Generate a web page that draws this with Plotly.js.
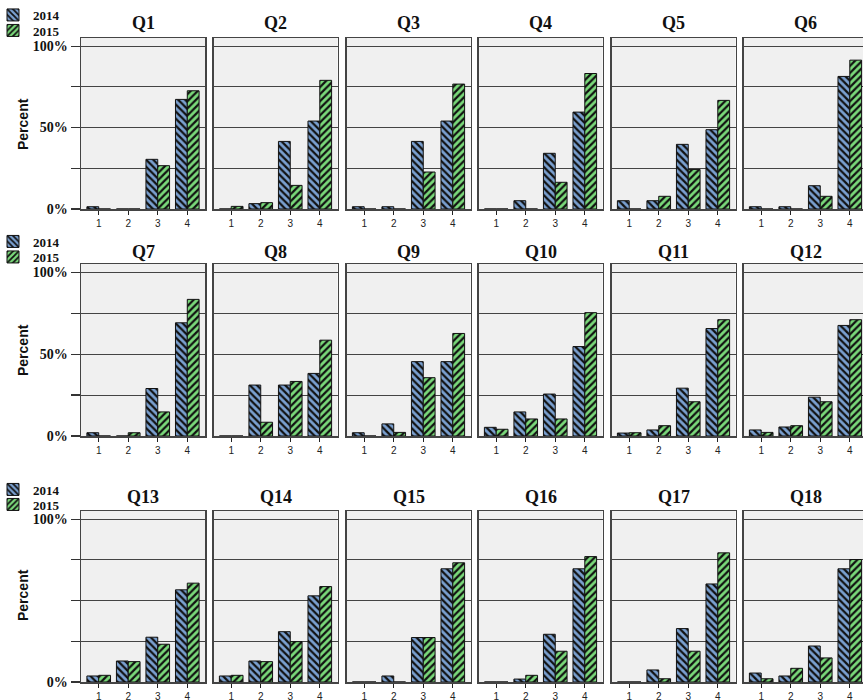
<!DOCTYPE html>
<html>
<head>
<meta charset="utf-8">
<script src="https://cdn.plot.ly/plotly-3.0.1.min.js"></script>
<style>html,body{margin:0;padding:0;background:#fff;}#chart{width:863px;height:700px;}</style>
</head>
<body>
<div id="chart"></div>
<script>
// ---- data ----
var questions = ['Q1','Q2','Q3','Q4','Q5','Q6','Q7','Q8','Q9','Q10','Q11','Q12','Q13','Q14','Q15','Q16','Q17','Q18'];
var categories = [1, 2, 3, 4];
var years = ['2014', '2015'];
var pct2014 = [
  [1.4, 0, 30.5, 67.3],
  [0, 3.3, 41.5, 54],
  [1.4, 1.4, 41.5, 54],
  [0, 5.1, 34.2, 59.5],
  [5.1, 5.1, 39.7, 48.7],
  [1.4, 1.4, 14.3, 81.4],
  [2, 0, 29, 69.1],
  [0, 31.1, 31.1, 38.2],
  [2, 7.4, 45.4, 45.4],
  [5.3, 14.7, 25.6, 54.6],
  [1.8, 3.7, 29.2, 65.6],
  [3.7, 5.5, 23.7, 67.5],
  [3.7, 12.9, 27.5, 56.6],
  [3.7, 12.9, 30.9, 52.9],
  [0, 3.7, 27.3, 69.5],
  [0, 1.8, 29.3, 69.5],
  [0, 7.4, 32.8, 60.2],
  [5.5, 3.7, 22.1, 69.5]
];
var pct2015 = [
  [0, 0, 26.6, 72.6],
  [1.6, 3.9, 14.5, 79],
  [0, 0, 22.7, 76.7],
  [0, 0, 16.4, 83.2],
  [0, 7.8, 24.3, 66.7],
  [0, 0, 7.8, 91.4],
  [0, 2, 14.7, 83.4],
  [0, 8.4, 33.3, 58.5],
  [0, 2.2, 35.6, 62.6],
  [4.1, 10.4, 10.4, 75.3],
  [2, 6.3, 20.9, 71],
  [2.2, 6.3, 20.9, 71],
  [4.1, 12.5, 23.2, 60.7],
  [4.1, 12.5, 24.8, 58.6],
  [0, 0, 27.3, 73.2],
  [0, 4.1, 18.9, 77],
  [0, 2, 18.9, 79.3],
  [2, 8.4, 14.8, 75.2]
];
var yTickText = [
  ['0%', '', '50%', '', '100%'],
  ['0%', '', '50%', '', '100%'],
  ['0%', '', '', '', '100%']
];

// ---- layout geometry (pixels) ----
var W = 863, H = 700;
var colLeft = [81, 213.5, 346.5, 478.5, 611.5, 743.5];
var panelW = 124;
var rowTop = [38, 264, 511];
var rowBottom = [209, 436, 682];
var titleY = [23, 252, 497];
var percentY = [124, 350, 595];
var legendItemY = [[13, 28.5], [239.5, 255], [487.5, 502.5]];
var unitPx = panelW / 4.2;

var serif = 'Liberation Serif, Times New Roman, serif';
var sans = 'Liberation Sans, Arial, sans-serif';
var colors = ['#7aa0d0', '#7ad97a'];
var shapes = ['\\', '/'];

var data = [];
var layout = {
  width: W, height: H,
  margin: {l: 0, r: 0, t: 0, b: 0, autoexpand: false},
  paper_bgcolor: '#ffffff',
  plot_bgcolor: '#f0f0f0',
  barmode: 'group',
  bargap: 0.2,
  bargroupgap: 0,
  showlegend: true,
  annotations: []
};

function legendKey(r, s) {
  var n = r * 2 + s + 1;
  return n === 1 ? 'legend' : 'legend' + n;
}

for (var r = 0; r < 3; r++) {
  for (var s = 0; s < 2; s++) {
    layout[legendKey(r, s)] = {
      x: -7 / W, xanchor: 'left',
      y: 1 - (legendItemY[r][s] - 13) / H, yanchor: 'top',
      bgcolor: 'rgba(0,0,0,0)',
      borderwidth: 0,
      tracegroupgap: 0,
      itemwidth: 30,
      font: {family: serif, size: 13, color: '#111', weight: 'bold'}
    };
  }
  layout.annotations.push({
    text: 'Percent', textangle: -90,
    xref: 'paper', yref: 'paper',
    x: 23 / W, y: 1 - percentY[r] / H,
    xanchor: 'center', yanchor: 'middle', showarrow: false,
    font: {family: sans, size: 14, color: '#111', weight: 'bold'}
  });
}

for (var i = 0; i < questions.length; i++) {
  var r = Math.floor(i / 6), c = i % 6;
  var xs = 'x' + (i + 1), ys = 'y' + (i + 1);
  var xa = 'xaxis' + (i + 1), ya = 'yaxis' + (i + 1);
  var left = colLeft[c];
  var right = Math.min(left + panelW, W);
  var xmax = 0.4 + (right - left) / unitPx;
  var series = [pct2014[i], pct2015[i]];
  for (var s = 0; s < 2; s++) {
    data.push({
      type: 'bar',
      name: years[s],
      x: categories,
      y: series[s],
      xaxis: xs, yaxis: ys,
      legend: legendKey(r, s),
      legendgroup: years[s] + '_' + r,
      showlegend: c === 0,
      offsetgroup: years[s],
      marker: {
        color: colors[s],
        line: {color: '#111', width: 1},
        pattern: {shape: shapes[s], fgcolor: '#111', bgcolor: colors[s], size: 5, solidity: 0.45}
      },
      hoverinfo: 'x+y+name'
    });
  }
  layout[xa] = {
    domain: [left / W, right / W],
    anchor: ys,
    range: [0.4, xmax],
    tickvals: categories,
    ticktext: categories.map(String),
    ticks: 'outside', ticklen: 4, tickwidth: 1, tickcolor: '#222',
    tickfont: {family: sans, size: 10, color: '#222'},
    showgrid: false, zeroline: false,
    showline: true, mirror: true, linecolor: '#444', linewidth: 1.5,
    fixedrange: true
  };
  layout[ya] = {
    domain: [1 - rowBottom[r] / H, 1 - rowTop[r] / H],
    anchor: xs,
    range: [0, 105],
    tickvals: [0, 25, 50, 75, 100],
    ticktext: yTickText[r],
    showticklabels: c === 0,
    ticks: c === 0 ? 'outside' : '',
    ticklen: 9, tickwidth: 1.2, tickcolor: '#333',
    tickfont: {family: serif, size: 14, color: '#111', weight: 'bold'},
    showgrid: true, gridcolor: '#444', gridwidth: 1,
    zeroline: false,
    showline: true, mirror: c === 5 ? false : true, linecolor: '#444', linewidth: 1.5,
    fixedrange: true
  };
  layout.annotations.push({
    text: questions[i],
    xref: 'paper', yref: 'paper',
    x: (left + panelW / 2) / W, y: 1 - titleY[r] / H,
    xanchor: 'center', yanchor: 'middle', showarrow: false,
    font: {family: serif, size: 18, color: '#111', weight: 'bold'}
  });
}

Plotly.newPlot('chart', data, layout, {displayModeBar: false, staticPlot: true});
</script>
</body>
</html>
